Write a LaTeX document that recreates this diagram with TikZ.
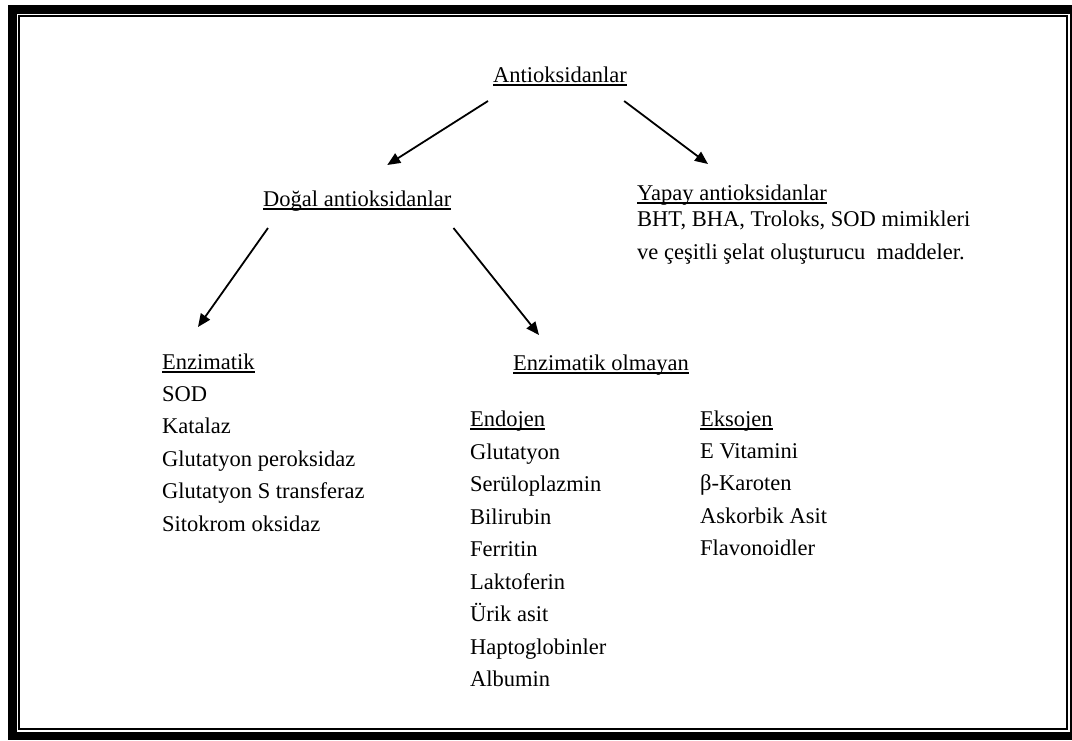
\documentclass[tikz,border=0pt]{standalone}
\usepackage{fontspec}
\setmainfont{Liberation Serif}
\usepackage{tikz}
\usetikzlibrary{positioning,arrows.meta}

\newcommand{\cizgili}[1]{\setbox0\hbox{#1}\rlap{\rule[-3.7pt]{\wd0}{1.5pt}}\box0}

\begin{document}
\begin{tikzpicture}[x=1pt, y=-1pt,
	yazi/.style = {anchor=base west, inner sep=0pt, font=\rmfamily\fontsize{22.5}{32.5}\selectfont},
	liste/.style = {yazi, align=left},
	ok/.style = {line width=1.8pt, -{Triangle[length=13pt,width=11pt]}}]
	\useasboundingbox (0,0) rectangle (1072,740);
	\fill[black] (8,5) rectangle (1072,740);
	\fill[white] (17,14) rectangle (1070,732);
	\draw[line width=2pt] (19,16) rectangle (1066.7,729.3);

	\node[yazi] (ant)   at (493,82)  {\cizgili{Antioksidanlar}};
	\node[yazi] (dogal) at (263,206) {\cizgili{Doğal antioksidanlar}};
	\node[yazi] (yapay) at (637,200) {\cizgili{Yapay antioksidanlar}};
	\node[liste] (yapayl) at (637,259) {BHT, BHA, Troloks, SOD mimikleri\\ve çeşitli şelat oluşturucu\ \ maddeler.};

	\node[yazi] (enz)   at (162,369) {\cizgili{Enzimatik}};
	\node[liste] (enzl) at (162,531) {SOD\\Katalaz\\Glutatyon peroksidaz\\Glutatyon S transferaz\\Sitokrom oksidaz};
	\node[yazi] (enzo)  at (513,370) {\cizgili{Enzimatik olmayan}};

	\node[yazi] (endo)  at (470,426) {\cizgili{Endojen}};
	\node[liste] (endol) at (470,686.5) {Glutatyon\\Serüloplazmin\\Bilirubin\\Ferritin\\Laktoferin\\Ürik asit\\Haptoglobinler\\Albumin};
	\node[yazi] (ekso)  at (700,426) {\cizgili{Eksojen}};
	\node[liste] (eksol) at (700,555.5) {E Vitamini\\β-Karoten\\Askorbik Asit\\Flavonoidler};

	\draw[ok] ([shift={(-5,19)}]ant.base west) -- ([shift={(30,-41)}]dogal.base);
	\draw[ok] ([shift={(-3,19)}]ant.base east) -- ([shift={(71,-36)}]yapay.base west);
	\draw[ok] ([shift={(5,22)}]dogal.base west) -- ([shift={(36,-42)}]enz.base west);
	\draw[ok] ([shift={(2,22)}]dogal.base east) -- ([shift={(26,-35)}]enzo.base west);
\end{tikzpicture}
\end{document}
